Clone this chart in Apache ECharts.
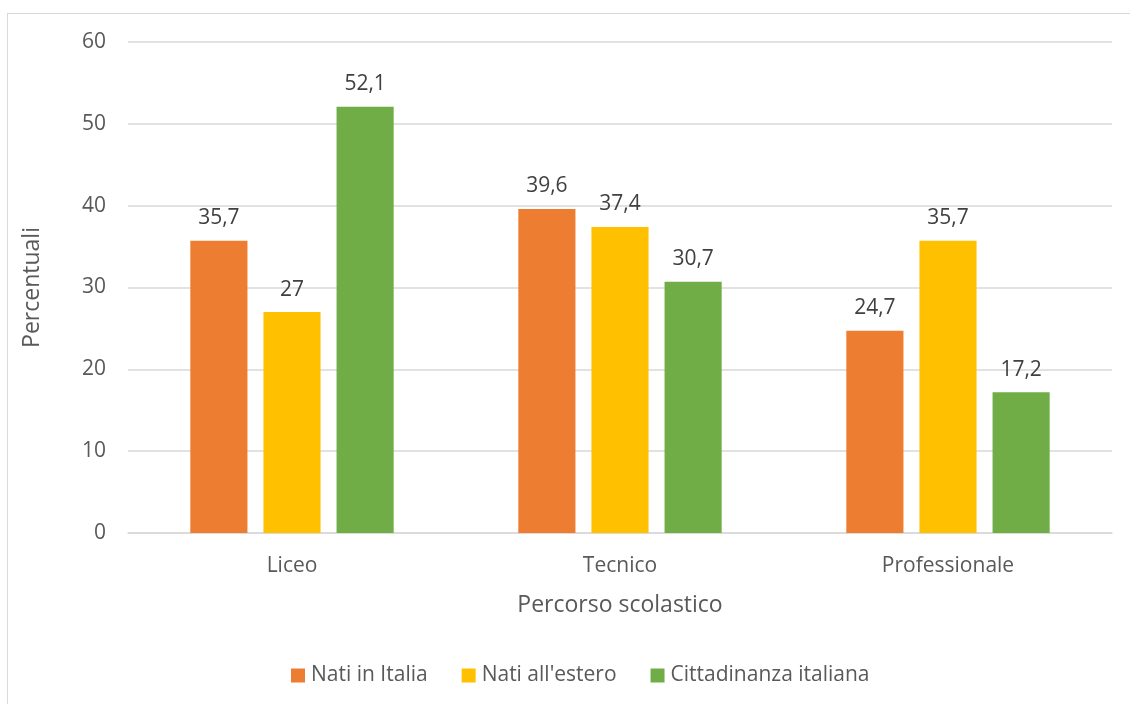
<!DOCTYPE html>
<html><head><meta charset="utf-8">
<script src="https://cdn.jsdelivr.net/npm/echarts@6/dist/echarts.min.js"></script>
<style>
html,body{margin:0;padding:0;background:#fff;}
#frame{position:absolute;left:7px;top:13px;width:1140px;height:720px;border:1px solid #d9d9d9;box-sizing:border-box;}
#c{position:absolute;left:0;top:0;width:1130px;height:704px;}
</style></head>
<body><div id="frame"></div><div id="c"></div>
<script>
const categories = ['Liceo', 'Tecnico', 'Professionale'];
const natiItalia = [35.7, 39.6, 24.7];
const natiEstero = [27, 37.4, 35.7];
const cittadinanza = [52.1, 30.7, 17.2];
const seriesNames = ['Nati in Italia', "Nati all'estero", 'Cittadinanza italiana'];
const colors = ['#ED7D31', '#FFC000', '#70AD47'];

const font = 'Open Sans';
const chart = echarts.init(document.getElementById('c'));
const mk = (name, data, color) => ({
  name, type: 'bar', data,
  barGap: '28%', barCategoryGap: '38%',
  itemStyle: { color },
  label: { show: true, position: 'top', distance: 12, color: '#404040', fontSize: 21, fontFamily: font,
    formatter: p => String(p.value).replace('.', ',') }
});
chart.setOption({
  animation: false,
  textStyle: { fontFamily: font },
  grid: { left: 128, right: 18, top: 42, bottom: 171 },
  legend: {
    left: 291, top: 665, padding: 0, itemWidth: 14, itemHeight: 14, itemGap: 34,
    icon: 'rect',
    textStyle: { color: '#595959', fontSize: 21, fontFamily: font, padding: [0, 0, 0, 1] },
    data: seriesNames
  },
  xAxis: {
    type: 'category', data: categories,
    axisTick: { show: false },
    axisLine: { lineStyle: { color: '#d9d9d9', width: 1.5 } },
    axisLabel: { color: '#595959', fontSize: 21, margin: 23, fontFamily: font },
    name: 'Percorso scolastico', nameLocation: 'middle', nameGap: 61,
    nameTextStyle: { color: '#595959', fontSize: 23, fontFamily: font }
  },
  yAxis: {
    type: 'value', min: 0, max: 60, interval: 10,
    axisLine: { show: false }, axisTick: { show: false },
    splitLine: { lineStyle: { color: '#d9d9d9', width: 1.5 } },
    axisLabel: { color: '#595959', fontSize: 21, margin: 22, fontFamily: font },
    name: 'Percentuali', nameLocation: 'middle', nameGap: 84, nameRotate: 90,
    nameTextStyle: { color: '#595959', fontSize: 23, fontFamily: font }
  },
  series: [
    mk(seriesNames[0], natiItalia, colors[0]),
    mk(seriesNames[1], natiEstero, colors[1]),
    mk(seriesNames[2], cittadinanza, colors[2])
  ]
});
</script></body></html>
